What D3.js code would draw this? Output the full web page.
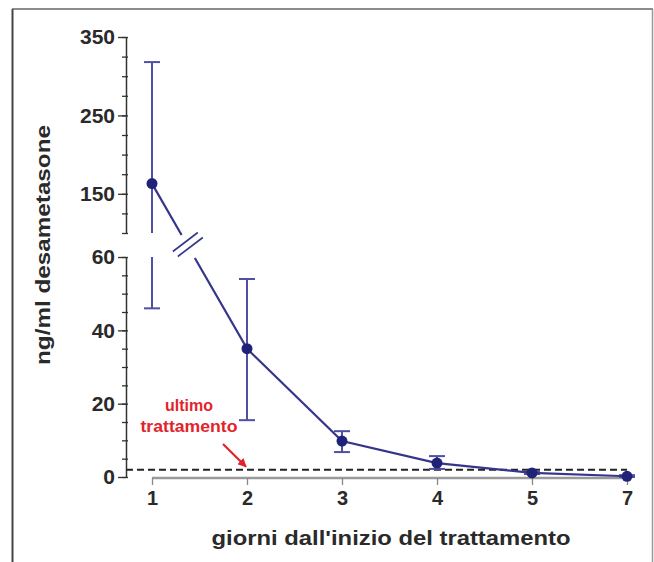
<html>
  <head>
    <meta charset="utf-8" />
    <script src="https://cdnjs.cloudflare.com/ajax/libs/d3/7.6.1/d3.min.js"></script>
    <style>
      body { margin: 0; background: #fff; }
      svg { display: block; font-family: "Liberation Sans", Arial, sans-serif; }
    </style>
  </head>
  <body>
    <svg width="654" height="562"></svg>
  </body>
  <script>
    // data
    let days = ["1", "2", "3", "4", "5", "7"];
    let means = [163, 35, 9.8, 3.8, 1.1, 0.2];
    let errHigh = [318, 54, 12.5, 5.7, 1.4, 0.5];
    let errLow = [46, 15.5, 6.8, 2.2, 0.8, 0];
    let upperTicks = [150, 250, 350];
    let lowerTicks = [0, 20, 40, 60];
    let lastTreatment = 2;

    let svg = d3.select("svg");

    // frame
    svg.append("line").attr("x1", 12.5).attr("x2", 12.5).attr("y1", 9).attr("y2", 562)
      .style("stroke", "#444").style("stroke-width", 2);
    svg.append("line").attr("x1", 12).attr("x2", 653).attr("y1", 9).attr("y2", 9)
      .style("stroke", "#666").style("stroke-width", 1.5);
    svg.append("line").attr("x1", 652.5).attr("x2", 652.5).attr("y1", 9).attr("y2", 562)
      .style("stroke", "#999").style("stroke-width", 1.5);

    let xScale = d3.scalePoint().domain(days).range([152, 627]);
    let yUp = d3.scaleLinear().domain([100, 350]).range([233, 37]);
    let yLow = d3.scaleLinear().domain([0, 60]).range([477, 257]);
    let yOf = (v) => (v >= 100 ? yUp(v) : yLow(Math.min(v, 60)));

    let axisX = 126;
    let ink = "#2a2a2a";

    // y axes (broken)
    function drawY(scale, major, minorStep) {
      let g = svg.append("g").attr("transform", `translate(${axisX},0)`);
      let d = scale.domain();
      g.call(d3.axisLeft(scale).tickValues(d3.range(d[0], d[1] + 0.01, minorStep))
        .tickSize(4).tickSizeOuter(0).tickFormat(""));
      g.call((s) => s.selectAll("line").attr("x2", -4).attr("x1", 2));
      let g2 = svg.append("g").attr("transform", `translate(${axisX},0)`);
      g2.call(d3.axisLeft(scale).tickValues(major).tickSize(8).tickPadding(3).tickSizeOuter(0));
      g2.select(".domain").remove();
      [g, g2].forEach((s) => {
        s.selectAll("line").style("stroke", "#333").style("stroke-width", 1.3);
        s.selectAll("path").style("stroke", "#333").style("stroke-width", 1.5);
      });
      g2.attr("font-family", null).attr("font-size", null);
      g2.selectAll("text").style("font-size", "21px").style("font-weight", "bold")
        .style("fill", ink);
    }
    drawY(yUp, upperTicks, 25);
    drawY(yLow, lowerTicks, 5);

    // x axis
    let gx = svg.append("g").attr("transform", "translate(0,478)");
    gx.call(d3.axisBottom(xScale).tickSize(7).tickPadding(6).tickSizeOuter(0));
    gx.attr("font-family", null).attr("font-size", null);
    gx.select(".domain").attr("d", `M${xScale("1")},0H${xScale("7")}`)
      .style("stroke", "#9a9a9a").style("stroke-width", 2.5);
    gx.selectAll("line").style("stroke", "#888").style("stroke-width", 1.3);
    gx.selectAll("text").style("font-size", "20px").style("font-weight", "bold")
      .style("fill", ink);

    // dashed reference line
    svg.append("line")
      .attr("x1", axisX).attr("x2", xScale("7"))
      .attr("y1", yLow(lastTreatment)).attr("y2", yLow(lastTreatment))
      .style("stroke", "#222").style("stroke-width", 2).style("stroke-dasharray", "7,4");

    // error bars
    let errColor = "#4f4fa6";
    days.forEach((d, i) => {
      let x = xScale(d);
      let segs = [];
      if (errHigh[i] >= 100 && errLow[i] < 100) {
        segs.push([yOf(errHigh[i]), yUp(100)]);
        segs.push([yLow(60), yOf(errLow[i])]);
      } else {
        segs.push([yOf(errHigh[i]), yOf(errLow[i])]);
      }
      segs.forEach((s) => {
        svg.append("line").attr("x1", x).attr("x2", x).attr("y1", s[0]).attr("y2", s[1])
          .style("stroke", errColor).style("stroke-width", 2);
      });
      [errHigh[i], errLow[i]].forEach((v) => {
        svg.append("line").attr("x1", x - 8).attr("x2", x + 8).attr("y1", yOf(v)).attr("y2", yOf(v))
          .style("stroke", errColor).style("stroke-width", 2);
      });
    });

    // connecting line with break between upper and lower segments
    let lineColor = "#35358c";
    let pts = days.map((d, i) => [xScale(d), yOf(means[i])]);
    let p1 = pts[0], p2 = pts[1];
    let at = (y) => [p1[0] + ((y - p1[1]) / (p2[1] - p1[1])) * (p2[0] - p1[0]), y];
    let a = at(yUp(100) + 2), b = at(yLow(60) + 1);
    let line = d3.line();
    svg.append("path").attr("d", line([p1, a])).style("fill", "none")
      .style("stroke", lineColor).style("stroke-width", 2.2);
    svg.append("path").attr("d", line([b].concat(pts.slice(1)))).style("fill", "none")
      .style("stroke", lineColor).style("stroke-width", 2.2);

    // break marks
    let mid = at((yUp(100) + yLow(60)) / 2);
    [-2.5, 2.5].forEach((off) => {
      svg.append("line")
        .attr("x1", mid[0] - 12 + off).attr("y1", mid[1] + 9 + off)
        .attr("x2", mid[0] + 13 + off).attr("y2", mid[1] - 10 + off)
        .style("stroke", lineColor).style("stroke-width", 1.6);
    });

    // markers
    svg.selectAll("circle.pt").data(pts).enter().append("circle")
      .attr("class", "pt").attr("cx", (d) => d[0]).attr("cy", (d) => d[1]).attr("r", 5.5)
      .style("fill", "#1f2378");

    // annotation
    let red = "#e3232c";
    svg.append("text").attr("x", 189).attr("y", 411).attr("text-anchor", "middle")
      .attr("textLength", 48).attr("lengthAdjust", "spacingAndGlyphs")
      .style("font-size", "16px").style("font-weight", "bold").style("fill", red).text("ultimo");
    svg.append("text").attr("x", 189).attr("y", 432).attr("text-anchor", "middle")
      .attr("textLength", 97).attr("lengthAdjust", "spacingAndGlyphs")
      .style("font-size", "16px").style("font-weight", "bold").style("fill", red).text("trattamento");
    svg.append("defs").append("marker").attr("id", "ah").attr("viewBox", "0 0 10 10")
      .attr("refX", 9).attr("refY", 5).attr("markerWidth", 4).attr("markerHeight", 4)
      .attr("orient", "auto").append("path").attr("d", "M0,0L10,5L0,10z").style("fill", red);
    svg.append("line").attr("x1", 223).attr("y1", 444).attr("x2", xScale("2") - 1).attr("y2", yLow(lastTreatment) - 3)
      .style("stroke", red).style("stroke-width", 2.2).attr("marker-end", "url(#ah)");

    // axis titles
    svg.append("text").attr("transform", "translate(50,245) rotate(-90)").attr("text-anchor", "middle")
      .attr("textLength", 240).attr("lengthAdjust", "spacingAndGlyphs")
      .style("font-size", "20px").style("font-weight", "bold").style("fill", ink)
      .text("ng/ml desametasone");
    svg.append("text").attr("x", 391).attr("y", 545).attr("text-anchor", "middle")
      .attr("textLength", 359).attr("lengthAdjust", "spacingAndGlyphs")
      .style("font-size", "21px").style("font-weight", "bold").style("fill", ink)
      .text("giorni dall'inizio del trattamento");
  </script>
</html>
